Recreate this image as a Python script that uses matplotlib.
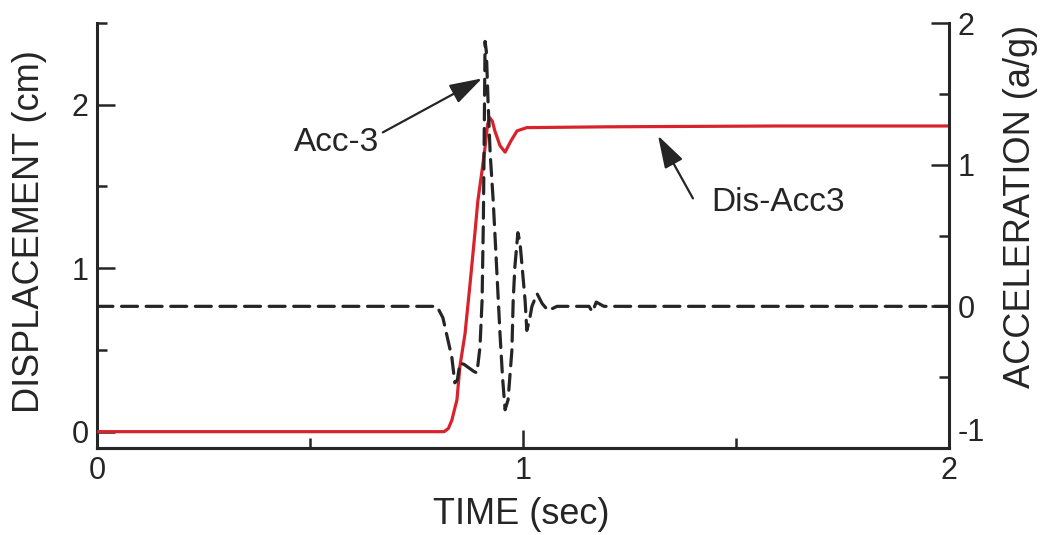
import matplotlib
matplotlib.use("Agg")
import matplotlib.pyplot as plt

plt.rcParams['font.family'] = ['Liberation Sans', 'DejaVu Sans']
plt.rcParams['axes.unicode_minus'] = False

# displacement record (cm)
t_dis = [0.0, 0.815, 0.825, 0.833, 0.845, 0.852, 0.864, 0.876, 0.887, 0.894,
         0.903, 0.911, 0.917, 0.922, 0.928, 0.934, 0.946, 0.958, 0.972, 0.986,
         1.009, 1.2, 1.6, 2.0]
dis = [0.0, 0.0, 0.02, 0.07, 0.195, 0.40, 0.60, 0.91, 1.21, 1.41,
       1.58, 1.74, 1.88, 1.92, 1.90, 1.84, 1.75, 1.71, 1.78, 1.84,
       1.86, 1.865, 1.87, 1.87]

# acceleration record (a/g)
t_acc = [0.0, 0.798, 0.812, 0.824, 0.833, 0.840, 0.846, 0.852, 0.862, 0.871,
         0.885, 0.892, 0.899, 0.904, 0.907, 0.909, 0.911, 0.914, 0.918, 0.923,
         0.930, 0.934, 0.946, 0.952, 0.958, 0.965, 0.974, 0.977, 0.981, 0.988,
         0.993, 0.998, 1.005, 1.009, 1.015, 1.021, 1.033, 1.045, 1.059, 1.08,
         1.155, 1.163, 1.172, 1.19, 2.0]
acc = [0.0, 0.0, -0.08, -0.24, -0.36, -0.54, -0.52, -0.40, -0.41, -0.43,
       -0.46, -0.47, -0.29, 0.04, 0.60, 1.20, 1.87, 1.80, 1.45, 1.08,
       0.75, 0.52, -0.19, -0.50, -0.73, -0.66, -0.31, 0.04, 0.28, 0.52,
       0.45, 0.28, 0.04, -0.17, -0.10, 0.0, 0.09, 0.02, -0.03, 0.0,
       0.0, -0.04, 0.03, 0.0, 0.0]

x_ticks = [0, 1, 2]
dis_ticks = [0, 1, 2]
acc_ticks = [-1, 0, 1, 2]

ink = '#252525'
red = '#d8232c'

fig = plt.figure(figsize=(10.47, 5.35), dpi=100)
ax = fig.add_axes([0.0926, 0.1626, 0.8138, 0.7944])
ax2 = ax.twinx()

ax.plot(t_dis, dis, color=red, lw=2.3, zorder=3)
ax2.plot(t_acc, acc, color=ink, lw=2.3, linestyle=(0, (5, 2.7)),
         dash_capstyle='round', zorder=2)

ax.set_xlim(0, 2)
ax.set_ylim(-0.1, 2.5)
ax2.set_ylim(-1, 2)

ax.set_xticks(x_ticks)
ax.set_xticks([0.5, 1.5], minor=True)
ax.set_yticks(dis_ticks)
ax.set_yticks([0.5, 1.5, 2.5], minor=True)
ax2.set_yticks(acc_ticks)
ax2.set_yticks([-0.5, 0.5, 1.5], minor=True)

for a in (ax, ax2):
    a.spines['top'].set_visible(False)
    for s in a.spines.values():
        s.set_linewidth(2.2)
        s.set_color(ink)
    a.tick_params(which='both', direction='in', width=1.8, color=ink,
                  labelsize=22, labelcolor=ink, pad=6)
    a.tick_params(which='major', length=13)
    a.tick_params(which='minor', length=7)
ax.spines['right'].set_visible(False)
ax2.spines['left'].set_visible(False)
ax.tick_params(axis='y', right=False)
ax2.tick_params(axis='y', left=False)

# the "-1" sits a little above its tick in the original
ax2.get_yticklabels()[0].set_verticalalignment('bottom')

fig.text(30 / 1047, 1 - 232 / 535, 'DISPLACEMENT (cm)', rotation=90,
         ha='center', va='center', fontsize=26, color=ink)
fig.text(1021 / 1047, 1 - 206 / 535, 'ACCELERATION (a/g)', rotation=90,
         ha='center', va='center', fontsize=26, color=ink)
fig.text(521 / 1047, 1 - 514 / 535, 'TIME (sec)',
         ha='center', va='center', fontsize=26, color=ink)

arrow = dict(arrowstyle='-|>,head_length=0.8,head_width=0.25',
             mutation_scale=25, lw=1.6, color=ink, shrinkA=0, shrinkB=0)

ax2.text(0.563, 1.157, 'Acc-3', ha='center', va='center', fontsize=24, color=ink)
ax2.annotate('', xy=(0.904, 1.609), xytext=(0.671, 1.228), arrowprops=arrow)

ax.text(1.599, 1.402, 'Dis-Acc3', ha='center', va='center', fontsize=24, color=ink)
ax.annotate('', xy=(1.317, 1.811), xytext=(1.399, 1.427), arrowprops=arrow)

fig.savefig('out.png', dpi=100)
